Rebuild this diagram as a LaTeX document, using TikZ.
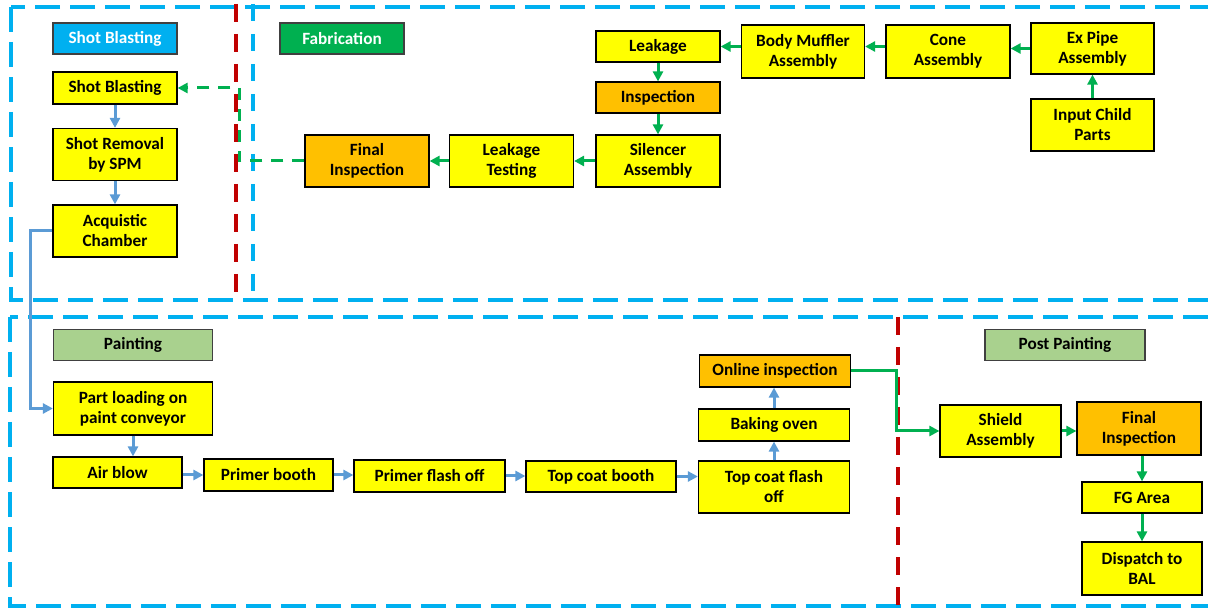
\documentclass[tikz,border=0pt]{standalone}
\usepackage{fontspec}
\setmainfont{Carlito}
\usepackage{xcolor}
\usetikzlibrary{arrows.meta, positioning, calc}
\definecolor{zonecyan}{HTML}{00B0F0}
\definecolor{zonered}{HTML}{C00000}
\definecolor{flowblue}{HTML}{5B9BD5}
\definecolor{flowgreen}{HTML}{00B050}
\definecolor{boxyellow}{HTML}{FFFF00}
\definecolor{boxorange}{HTML}{FFC000}
\definecolor{paintgreen}{HTML}{A9D18E}

\begin{document}
\begin{tikzpicture}[x=1pt, y=-1pt,
		font=\fontsize{17.2}{20}\selectfont\bfseries,
		proc/.style={draw=black, line width=1.2pt, fill=boxyellow, align=center, inner sep=0pt},
		insp/.style={proc, fill=boxorange},
		head/.style={draw=black!75, line width=1.2pt, align=center, inner sep=0pt, minimum height=31pt, minimum width=124pt},
		zone/.style={zonecyan, line width=3.4pt, dash pattern=on 25pt off 10pt},
		zonecut/.style={zonecyan, line width=3.6pt, dash pattern=on 17pt off 13pt},
		divide/.style={zonered, line width=3.8pt, dash pattern=on 18pt off 12pt},
		blueflow/.style={flowblue, line width=3pt, -{Triangle[length=10pt, width=10pt]}},
		greenflow/.style={flowgreen, line width=3pt, -{Triangle[length=10pt, width=10pt]}},
		greendash/.style={greenflow, dash pattern=on 12pt off 9pt}]
		\useasboundingbox (0,0) rectangle (1208,609);

		% zones
		\draw [zone] (11,7) rectangle (1230,300);
		\draw [zonecut] (253,4) -- (253,293);
		\draw [divide] (236,4) -- (236,293);
		\draw [zone] (10,317) rectangle (1230,606);
		\draw [divide] (898,317) -- (898,607);

		% headings
		\node [head, fill=zonecyan, text=white] (tsb) at (115,38.5) {Shot Blasting};
		\node [head, fill=flowgreen, text=white] (tfab) at (342,38.5) {Fabrication};
		\node [head, fill=paintgreen, minimum width=159pt] (tpa) at (133,345) {Painting};
		\node [head, fill=paintgreen, minimum width=160pt] (tpp) at (1065,345) {Post Painting};

		% shot blasting
		\node [proc, minimum width=124pt, minimum height=32pt] (sb) at (115,88) {Shot Blasting};
		\node [proc, minimum width=124pt, minimum height=52pt] (sr) at (115,154.5) {Shot Removal\\by SPM};
		\node [proc, minimum width=124pt, minimum height=52pt] (ac) at (115,231) {Acquistic\\Chamber};

		% fabrication
		\node [insp, minimum width=124pt, minimum height=52pt] (fi) at (367,161) {Final\\Inspection};
		\node [proc, minimum width=124pt, minimum height=52pt] (lt) at (511.5,161) {Leakage\\Testing};
		\node [proc, minimum width=124pt, minimum height=52pt] (sa) at (658,161) {Silencer\\Assembly};
		\node [insp, minimum width=124pt, minimum height=31pt] (in) at (658,97.5) {Inspection};
		\node [proc, minimum width=124pt, minimum height=31pt] (lk) at (658,46.5) {Leakage};
		\node [proc, minimum width=123pt, minimum height=53pt] (bm) at (803,51.5) {Body Muffler\\Assembly};
		\node [proc, minimum width=124pt, minimum height=53pt] (co) at (948,51.5) {Cone\\Assembly};
		\node [proc, minimum width=123pt, minimum height=51pt] (ep) at (1092.5,48.5) {Ex Pipe\\Assembly};
		\node [proc, minimum width=123pt, minimum height=52pt] (ic) at (1092.5,125) {Input Child\\Parts};

		% painting
		\node [proc, minimum width=159pt, minimum height=53pt] (pl) at (133,408.5) {Part loading on\\paint conveyor};
		\node [proc, minimum width=129pt, minimum height=31pt] (ab) at (117.5,472.5) {Air blow};
		\node [proc, minimum width=129pt, minimum height=32pt] (pb) at (268.5,475) {Primer booth};
		\node [proc, minimum width=151pt, minimum height=32pt] (pf) at (429.5,476) {Primer flash off};
		\node [proc, minimum width=150pt, minimum height=31pt] (tb) at (601,476.5) {Top coat booth};
		\node [proc, minimum width=151pt, minimum height=52pt] (tf) at (774,487) {Top coat flash\\off};
		\node [proc, minimum width=151pt, minimum height=32pt] (bo) at (774,425) {Baking oven};
		\node [insp, minimum width=151pt, minimum height=32pt] (oi) at (775,371) {Online inspection};

		% post painting
		\node [proc, minimum width=121pt, minimum height=52pt] (sh) at (1000.5,431) {Shield\\Assembly};
		\node [insp, minimum width=124pt, minimum height=53pt] (pfi) at (1139,428.5) {Final\\Inspection};
		\node [proc, minimum width=120pt, minimum height=31pt] (fg) at (1142,497.5) {FG Area};
		\node [proc, minimum width=120pt, minimum height=53pt] (bal) at (1142,568.5) {Dispatch to\\BAL};

		% flows
		\draw [blueflow] (sb) -- (sr);
		\draw [blueflow] (sr) -- (ac);
		\draw [blueflow] (ac.west) -- ++(-22,0) |- (pl.west);
		\draw [blueflow] (pl.south) -- (pl.south |- ab.north);
		\draw [blueflow] (pb.west -| ab.east) -- (pb.west);
		\draw [blueflow] (pb.east) -- (pb.east -| pf.west);
		\draw [blueflow] (pf.east) -- (pf.east -| tb.west);
		\draw [blueflow] (tb.east) -- (tb.east -| tf.west);
		\draw [blueflow] (tf) -- (bo);
		\draw [blueflow] (bo) -- (bo |- oi.south);

		\draw [greenflow] (ic) -- (ep);
		\draw [greenflow] (ep.west) -- (ep.west -| co.east);
		\draw [greenflow] (co.west |- lk.east) -- (bm.east |- lk.east);
		\draw [greenflow] (bm.west |- lk.east) -- (lk.east);
		\draw [greenflow] (lk) -- (in);
		\draw [greenflow] (in) -- (sa);
		\draw [greenflow] (sa) -- (lt);
		\draw [greenflow] (lt) -- (fi);
		\draw [greendash] (fi.west) -- ++(-65,0) |- (sb.east);

		\draw [greenflow] (oi.east) -- ++(45,0) |- (sh.west);
		\draw [greenflow] (sh.east) -- (sh.east -| pfi.west);
		\draw [greenflow] (fg.north |- pfi.south) -- (fg.north);
		\draw [greenflow] (fg) -- (bal);
	\end{tikzpicture}
\end{document}
